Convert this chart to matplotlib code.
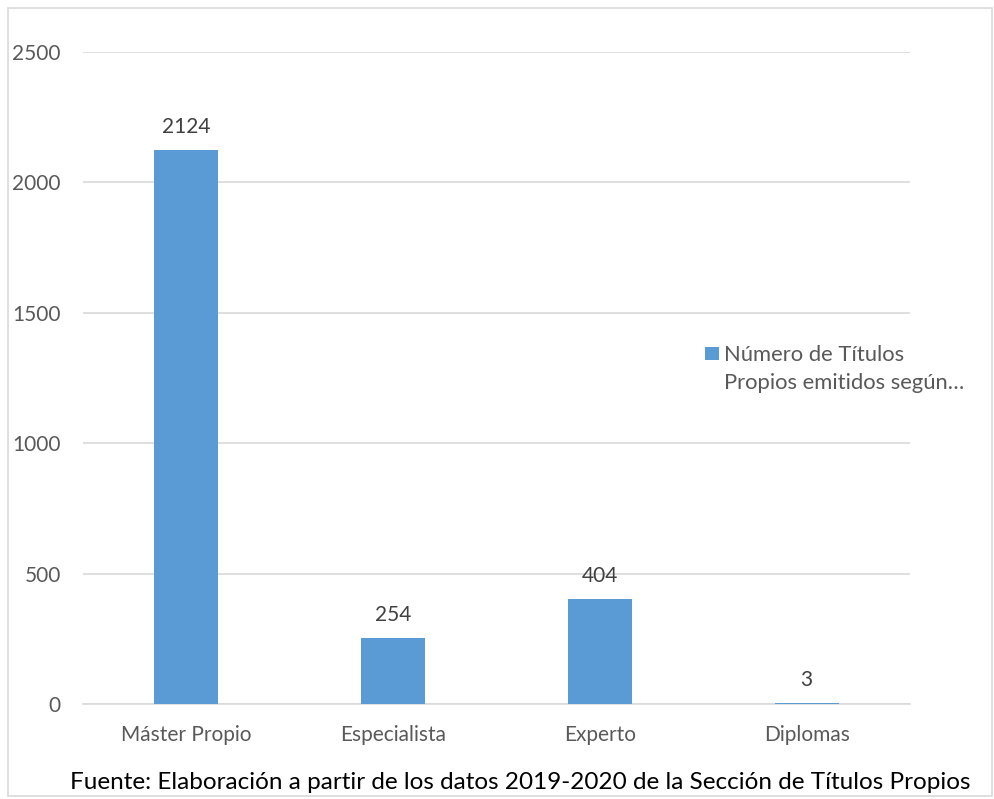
import matplotlib.pyplot as plt
from matplotlib.patches import Rectangle
import numpy as np

# Data
categories = ['Máster Propio', 'Especialista', 'Experto', 'Diplomas']
values = [2124, 254, 404, 3]
yticks = [0, 500, 1000, 1500, 2000, 2500]
legend_label = 'Número de Títulos\nPropios emitidos según…'
source_text = 'Fuente: Elaboración a partir de los datos 2019-2020 de la Sección de Títulos Propios'

plt.rcParams['font.family'] = ['Lato', 'DejaVu Sans']

fig = plt.figure(figsize=(9.94, 7.99), dpi=100)
ax = fig.add_axes([0.0835, 0.1189, 0.832, 0.816])

bar_color = '#5B9BD5'
grid_color = '#D9D9D9'
text_color = '#595959'

x = np.arange(len(categories))
bars = ax.bar(x, values, width=0.31, color=bar_color, zorder=3)

# data labels
for xi, v in zip(x, values):
    ax.text(xi, v + 50, str(v), ha='center', va='bottom', fontsize=15, color='#404040')

ax.set_xlim(-0.5, len(categories) - 0.5)
ax.set_ylim(0, 2500)
ax.set_yticks(yticks)
ax.set_xticks(x)
ax.set_xticklabels(categories)
ax.tick_params(axis='both', length=0, labelsize=15, labelcolor=text_color)
ax.tick_params(axis='y', pad=16)
ax.tick_params(axis='x', pad=15)
ax.grid(axis='y', color=grid_color, linewidth=1.2, zorder=0)
for side in ['top', 'right', 'left']:
    ax.spines[side].set_visible(False)
ax.spines['bottom'].set_color(grid_color)
ax.spines['bottom'].set_linewidth(1.2)

# legend (square key + two-line label, drawn by hand like the Excel one)
fig.patches.append(Rectangle((0.7095, 0.5495), 0.0135, 0.0165, transform=fig.transFigure,
                             facecolor=bar_color, edgecolor='none'))
fig.text(0.728, 0.568, legend_label, ha='left', va='top', fontsize=15.8,
         color=text_color, linespacing=1.5)

# source note
fig.text(0.523, 0.008, source_text, ha='center', va='bottom', fontsize=17.5, color='black')

# outer chart border
fig.patches.append(Rectangle((0.008, 0.004), 0.990, 0.986, transform=fig.transFigure,
                             fill=False, edgecolor=grid_color, linewidth=1.2))

plt.savefig('out.png', dpi=100)
